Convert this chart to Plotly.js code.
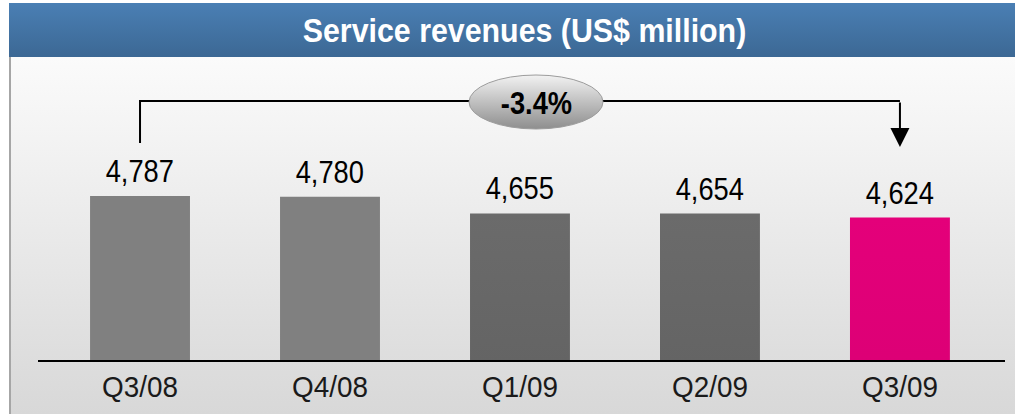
<!DOCTYPE html>
<html><head><meta charset="utf-8">
<script src="https://cdn.plot.ly/plotly-3.0.1.min.js"></script>
<style>
html,body{margin:0;padding:0;background:#fff;}
#wrap{position:relative;width:1015px;height:414px;overflow:hidden;background:#fff;}
#hdr{position:absolute;left:9px;top:3px;width:1006px;height:54px;background:linear-gradient(#4a7fb4,#3c6894);}
#panel{position:absolute;left:9px;top:57px;width:1004px;height:357px;background:linear-gradient(#fbfbfb,#d8d8d8);border-left:2px solid #a6a6a6;}
#chart{position:absolute;left:0;top:0;width:1015px;height:414px;}
</style></head>
<body>
<div id="wrap"><div id="hdr"></div><div id="panel"></div><div id="chart"></div></div>
<script>
const categories = ["Q3/08","Q4/08","Q1/09","Q2/09","Q3/09"];
const revenues = [4787, 4780, 4655, 4654, 4624];
const valueLabels = ["4,787","4,780","4,655","4,654","4,624"];
const changeLabel = "-3.4%";
const barColors = ["#808080","#808080","#5e5e5e","#5e5e5e","#d8006f"];
const barGradients = [null, null, ["#6b6b6b","#4e4e4e"], ["#6b6b6b","#4e4e4e"], ["#e4007a","#c50068"]];

const font = "'Liberation Sans', Arial, sans-serif";

const trace = {
  type: "bar",
  x: categories,
  y: revenues,
  cliponaxis: false,
  marker: {color: barColors, line: {width: 0}},
  hoverinfo: "none"
};

const first = 0, last = categories.length - 1;

const annotations = categories.map((c, i) => ({
  x: c, y: revenues[i], xref: "x", yref: "y",
  text: valueLabels[i], showarrow: false,
  xanchor: "center", yanchor: "bottom", yshift: 5,
  font: {family: font, size: 31, color: "#000"}
}));

annotations.push(
  {x: last, y: (360-147)/300, xref: "x", yref: "paper",
   ax: 0, ay: -46, axref: "pixel", ayref: "pixel",
   showarrow: true, arrowhead: 2, arrowsize: 1.9, arrowwidth: 2, arrowcolor: "#000", text: ""},
  {x: (536-38)/967, y: (360-104)/300, xref: "paper", yref: "paper",
   xanchor: "center", yanchor: "middle",
   text: "<b>" + changeLabel + "</b>", showarrow: false,
   font: {family: font, size: 31, color: "#000"}}
);

const layout = {
  width: 1015, height: 414,
  margin: {l: 38, r: 10, t: 60, b: 54},
  paper_bgcolor: "rgba(0,0,0,0)",
  plot_bgcolor: "rgba(0,0,0,0)",
  showlegend: false,
  bargap: 0.474,
  title: {
    text: "<b>Service revenues (US$ million)</b>",
    font: {family: font, size: 33, color: "#ffffff"},
    x: 524.5/1015, xanchor: "center", xref: "container",
    y: 1 - 30/414, yanchor: "middle", yref: "container"
  },
  xaxis: {
    type: "category",
    range: [-0.537, 4.553],
    showline: true, linecolor: "#000", linewidth: 1.5,
    ticks: "", showgrid: false, zeroline: false,
    tickfont: {family: font, size: 30, color: "#1a1a1a"},
    fixedrange: true
  },
  yaxis: {
    range: [3553, 5809],
    visible: false, showgrid: false, zeroline: false, fixedrange: true
  },
  shapes: [
    {type: "path", xref: "x", yref: "paper",
     path: "", line: {color: "#000", width: 2}},
    {type: "circle", xref: "paper", yref: "paper",
     x0: (469-38)/967, x1: (603-38)/967, y0: (360-129)/300, y1: (360-75)/300,
     fillcolor: "#c4c4c4", line: {color: "#9c9c9c", width: 1}, layer: "above"}
  ],
  annotations: annotations
};

const yTop = (360-101)/300, yLeftBottom = (360-143)/300;
layout.shapes[0].path = "M " + first + "," + yLeftBottom + " L " + first + "," + yTop + " L " + last + "," + yTop;

Plotly.newPlot("chart", [trace], layout, {displayModeBar: false, staticPlot: true}).then(gd => {
  const NS = "http://www.w3.org/2000/svg";
  const svg = gd.querySelector("svg.main-svg");
  const defs = document.createElementNS(NS, "defs");
  svg.insertBefore(defs, svg.firstChild);
  function grad(id, top, bottom) {
    const g = document.createElementNS(NS, "linearGradient");
    g.setAttribute("id", id); g.setAttribute("x1", "0"); g.setAttribute("y1", "0");
    g.setAttribute("x2", "0"); g.setAttribute("y2", "1");
    [[0, top], [1, bottom]].forEach(([o, c]) => {
      const s = document.createElementNS(NS, "stop");
      s.setAttribute("offset", o); s.setAttribute("stop-color", c); g.appendChild(s);
    });
    defs.appendChild(g);
  }
  gd.querySelectorAll(".barlayer .point path").forEach((p, i) => {
    if (barGradients[i]) { grad("bg" + i, barGradients[i][0], barGradients[i][1]); p.style.fill = "url(#bg" + i + ")"; }
  });
  grad("bubble", "#f2f2f2", "#8e8e8e");
  const ell = gd.querySelector('.layer-above .shapelayer path[data-index="1"]');
  if (ell) ell.style.fill = "url(#bubble)";

  // condense text horizontally (the reference uses a narrow typeface)
  function condense(el, k) {
    const w = document.createElementNS(NS, "g");
    el.parentNode.insertBefore(w, el);
    w.appendChild(el);
    const b = w.getBBox();
    const cx = b.x + b.width / 2;
    w.setAttribute("transform", "translate(" + cx + ",0) scale(" + k + ",1) translate(" + (-cx) + ",0)");
  }
  gd.querySelectorAll(".xtick text").forEach(t => condense(t, 0.93));
  gd.querySelectorAll("text.annotation-text").forEach(t => condense(t, 0.88));
  const title = gd.querySelector("text.gtitle");
  if (title) condense(title, 0.92);
});
</script>
</body></html>
